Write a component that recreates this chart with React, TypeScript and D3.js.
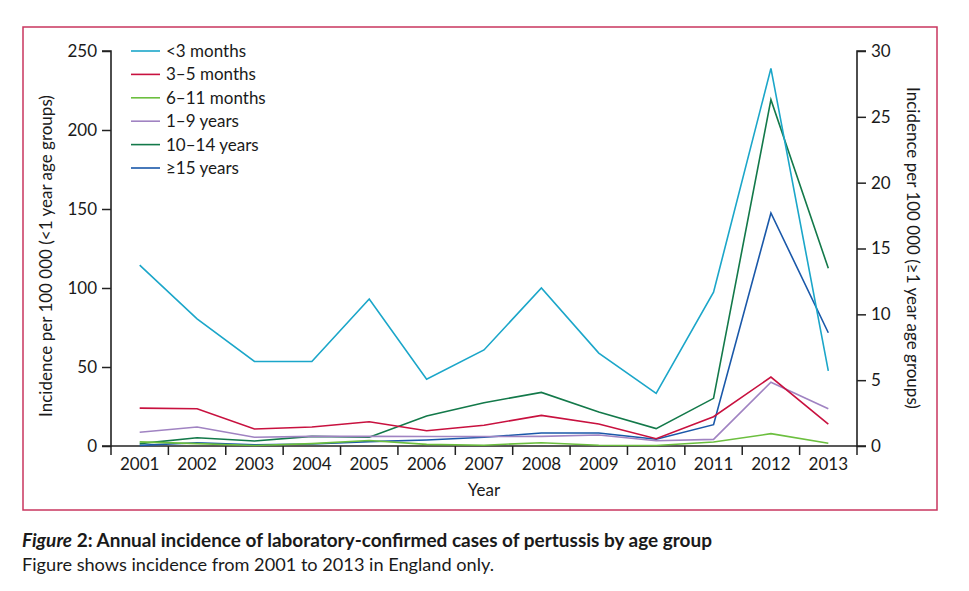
import React, { useEffect, useRef } from "react";
import * as d3 from "d3";

const years = ["2001", "2002", "2003", "2004", "2005", "2006", "2007", "2008", "2009", "2010", "2011", "2012", "2013"];

// left axis (<1 year age groups)
const under3m = [114.5, 80.5, 53.5, 53.5, 93, 42.3, 60.8, 100, 58.8, 33.3, 97.3, 239, 47.6];
const m3to5 = [24, 23.6, 10.8, 12, 15.3, 9.7, 13.1, 19.4, 13.9, 4.6, 18.5, 43.6, 13.9];
const m6to11 = [2.6, 1.5, 0.3, 1.5, 3.5, 1, 0.5, 2.1, 0.5, 0.3, 2.5, 7.8, 1.7];

// right axis (>=1 year age groups)
const y1to9 = [1.04, 1.44, 0.66, 0.73, 0.73, 0.72, 0.72, 0.73, 0.83, 0.4, 0.5, 4.84, 2.83];
const y10to14 = [0.18, 0.63, 0.38, 0.73, 0.66, 2.28, 3.29, 4.07, 2.58, 1.32, 3.62, 26.3, 13.5];
const y15plus = [0.05, 0.25, 0.1, 0.15, 0.33, 0.46, 0.66, 0.99, 0.99, 0.51, 1.62, 17.7, 8.6];

const leftTicks = [0, 50, 100, 150, 200, 250];
const rightTicks = [0, 5, 10, 15, 20, 25, 30];

const series = [
  { name: "<3 months", values: under3m, axis: "left", color: "#1ba6c9" },
  { name: "3–5 months", values: m3to5, axis: "left", color: "#c8113f" },
  { name: "6–11 months", values: m6to11, axis: "left", color: "#6cbf3f" },
  { name: "1–9 years", values: y1to9, axis: "right", color: "#a083c2" },
  { name: "10–14 years", values: y10to14, axis: "right", color: "#13794a" },
  { name: "≥15 years", values: y15plus, axis: "right", color: "#1a58a9" },
];

const FONT = "Lato, 'Open Sans', sans-serif";

export default function App() {
  const ref = useRef<SVGSVGElement>(null);

  useEffect(() => {
    if (!ref.current) return;
    const svg = d3.select(ref.current);
    svg.selectAll("*").remove();

    const left = 111, right = 857, top = 51, bottom = 446;
    const axisColor = "#222";

    // frame
    svg.append("rect")
      .attr("x", 23).attr("y", 27).attr("width", 914).attr("height", 483)
      .attr("fill", "none").attr("stroke", "#c9365f").attr("stroke-width", 1.5);

    const x = d3.scaleBand().domain(years).range([left, right]);
    const yL = d3.scaleLinear().domain([0, 250]).range([bottom, top]);
    const yR = d3.scaleLinear().domain([0, 30]).range([bottom, top]);

    const g = svg.append("g");

    // left axis
    const la = g.append("g").attr("transform", `translate(${left},0)`)
      .call(d3.axisLeft(yL).tickValues(leftTicks).tickSize(9).tickPadding(5));
    // right axis
    const ra = g.append("g").attr("transform", `translate(${right},0)`)
      .call(d3.axisRight(yR).tickValues(rightTicks).tickSize(9).tickPadding(5));
    // bottom axis: ticks at band boundaries
    const xa = g.append("g").attr("transform", `translate(0,${bottom})`)
      .call(d3.axisBottom(x).tickSize(0).tickPadding(12));
    xa.selectAll(".bound").data(d3.range(years.length + 1)).enter().append("line")
      .attr("x1", (i) => left + i * x.step()).attr("x2", (i) => left + i * x.step())
      .attr("y1", 0).attr("y2", 9).attr("stroke", axisColor).attr("stroke-width", 1.5);

    [la, ra, xa].forEach((a) => {
      a.selectAll(".domain").attr("stroke", axisColor).attr("stroke-width", 1.6);
      a.selectAll(".tick line").attr("stroke", axisColor).attr("stroke-width", 1.5);
      a.selectAll(".tick text").attr("fill", "#1a1a1a").style("font-family", FONT).style("font-size", "17px");
    });
    la.select(".domain").attr("d", `M-9,${top}H0V${bottom}H-9`);
    ra.select(".domain").attr("d", `M9,${top}H0V${bottom}H9`);
    xa.select(".domain").attr("d", `M${left},0H${right}`);

    // axis titles
    g.append("text").attr("transform", `translate(52,256) rotate(-90)`)
      .attr("text-anchor", "middle").style("font-family", FONT).style("font-size", "17px").attr("fill", "#1a1a1a")
      .text("Incidence per 100 000 (<1 year age groups)");
    g.append("text").attr("transform", `translate(907,248) rotate(90)`)
      .attr("text-anchor", "middle").style("font-family", FONT).style("font-size", "17px").attr("fill", "#1a1a1a")
      .text("Incidence per 100 000 (≥1 year age groups)");
    g.append("text").attr("x", (left + right) / 2).attr("y", 496)
      .attr("text-anchor", "middle").style("font-family", FONT).style("font-size", "17px").attr("fill", "#1a1a1a")
      .text("Year");

    // lines
    const cx = (i: number) => (x(years[i]) as number) + x.bandwidth() / 2;
    series.slice().reverse().forEach((s) => {
      const ys = s.axis === "left" ? yL : yR;
      const line = d3.line<number>().x((_, i) => cx(i)).y((v) => ys(v));
      g.append("path").datum(s.values).attr("d", line).attr("fill", "none")
        .attr("stroke", s.color).attr("stroke-width", 1.6).attr("stroke-linejoin", "miter");
    });

    // legend
    const lg = g.append("g").attr("transform", "translate(131,51)");
    series.forEach((s, i) => {
      const row = lg.append("g").attr("transform", `translate(0,${i * 23.4})`);
      row.append("line").attr("x1", 0).attr("x2", 29).attr("y1", 0).attr("y2", 0)
        .attr("stroke", s.color).attr("stroke-width", 1.6);
      row.append("text").attr("x", 35).attr("y", 0).attr("dy", "0.35em")
        .style("font-family", FONT).style("font-size", "17px").attr("fill", "#1a1a1a").text(s.name);
    });

    // caption
    const cap = svg.append("text").attr("x", 22).attr("y", 547)
      .style("font-family", FONT).style("font-size", "18px").style("font-weight", "bold").attr("fill", "#1a1a1a")
      .attr("textLength", 690).attr("lengthAdjust", "spacingAndGlyphs");
    cap.append("tspan").style("font-style", "italic").text("Figure");
    cap.append("tspan").text(" 2: Annual incidence of laboratory-confirmed cases of pertussis by age group");
    svg.append("text").attr("x", 22).attr("y", 571)
      .style("font-family", FONT).style("font-size", "17px").attr("fill", "#1a1a1a")
      .attr("textLength", 472).attr("lengthAdjust", "spacingAndGlyphs")
      .text("Figure shows incidence from 2001 to 2013 in England only.");
  }, []);

  return (
    <svg ref={ref} width={969} height={591}
      style={{ position: "absolute", left: 0, top: 0, background: "#fff" }} />
  );
}
